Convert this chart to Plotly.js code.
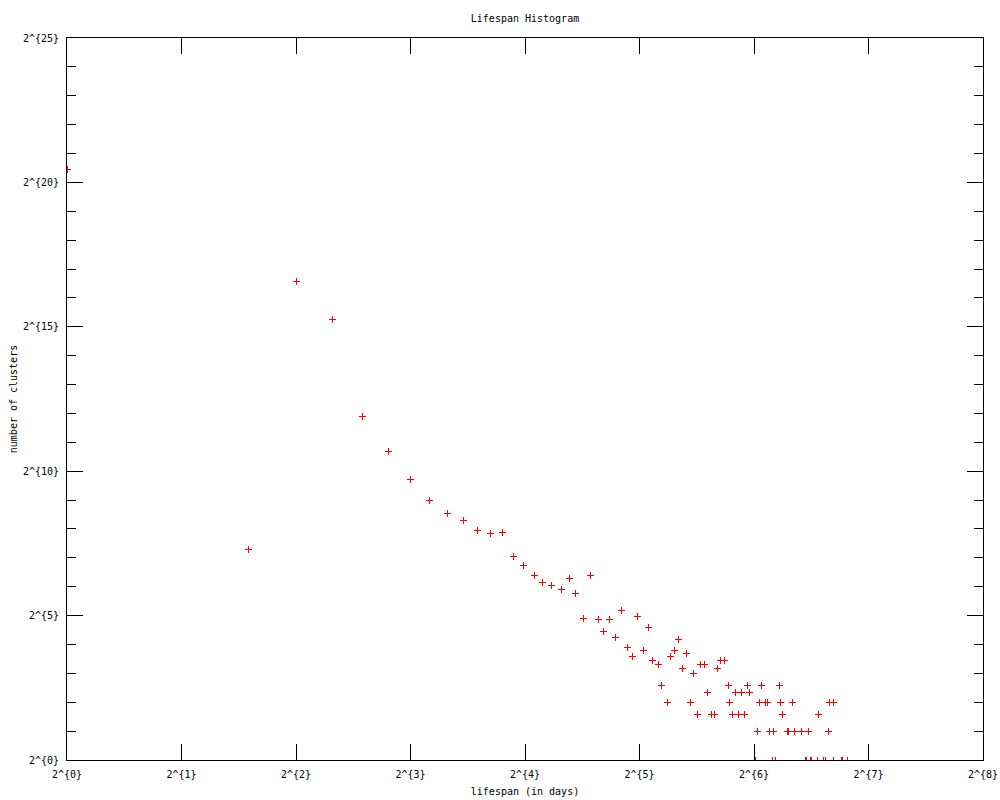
<!DOCTYPE html>
<html>
<head>
<meta charset="utf-8">
<script src="https://cdn.plot.ly/plotly-3.0.1.min.js"></script>
<style>html,body{margin:0;padding:0;background:#fff;}#chart{width:1000px;height:800px;}
#chart .point{shape-rendering:crispEdges;}
#chart .xtick, #chart .ytick, #chart .xline, #chart .yline{shape-rendering:crispEdges;}
</style>
</head>
<body>
<div id="chart"></div>
<script>
// lifespan (days) and number of clusters
var lifespan = [1, 3, 4, 5, 6, 7, 8, 9, 10, 11,
  12, 13, 14, 14.9, 15.9, 16.9, 17.8, 18.8, 19.9, 20.9,
  21.7, 23.8, 22.8, 24.9, 25.8, 26.7, 27.7, 28.7, 29.8, 30.7,
  31.7, 32.7, 33.7, 34.7, 35.8, 36.6, 37.8, 38.7, 39.6, 40.6,
  41.6, 42.6, 43.7, 44.5, 45.5, 46.4, 47.5, 48.4, 49.6, 50.5,
  51.4, 52.3, 53.4, 54.8, 55.3, 56.2, 57.1, 58.2, 59.5, 60.4,
  61.4, 62.4, 64.4, 65.5, 66.2, 67.1, 68.6, 69.4, 70.4, 71.4,
  72.1, 72.9, 74.5, 75.3, 76.2, 78.2, 79.1, 80.9, 82.0, 85.2,
  87.3, 88.1, 89.2, 90.1, 90.8, 94.2, 94.7, 97.7, 98.8, 100.7,
  101.3, 103.4, 103.7, 108.9, 109.6, 112.9];
var clusters = [1420000, 155, 98000, 39400, 3835, 1656, 845, 511, 374, 310,
  248, 231, 237, 133, 107, 84, 70, 66, 60, 78,
  55, 84, 30, 29, 22, 29, 19, 36, 15, 12,
  31, 14, 24, 11, 10, 6, 4, 12, 14, 18,
  9, 13, 4, 8, 3, 10, 10, 5, 3, 3,
  9, 11, 11, 6, 4, 3, 5, 3, 5, 3,
  6, 5, 1, 2, 4, 6, 4, 4, 2, 1,
  2, 1, 6, 4, 3, 2, 2, 4, 2, 2,
  1, 1, 2, 1, 1, 1, 3, 1, 1, 2,
  4, 4, 1, 1, 1, 1];

var xTickVals = [1, 2, 4, 8, 16, 32, 64, 128, 256];
var xTickText = ["2^{0}", "2^{1}", "2^{2}", "2^{3}", "2^{4}", "2^{5}", "2^{6}", "2^{7}", "2^{8}"];
var yTickVals = [1, 32, 1024, 32768, 1048576, 33554432];
var yTickText = ["2^{0}", "2^{5}", "2^{10}", "2^{15}", "2^{20}", "2^{25}"];
var yMinorExp = [1,2,3,4,6,7,8,9,11,12,13,14,16,17,18,19,21,22,23,24];

var yMinorVals = yMinorExp.map(function(e){ return Math.pow(2, e); });
var FONT = "DejaVu Sans Mono, monospace";

var trace = {
  x: lifespan, y: clusters, type: 'scatter', mode: 'markers',
  marker: {symbol: 'cross-thin', size: 5, color: '#ff0000', line: {color: '#ff0000', width: 1}},
  showlegend: false, hoverinfo: 'x+y'
};

var axisCommon = {
  type: 'log', showgrid: false, zeroline: false,
  showline: true, linecolor: '#000', linewidth: 1, mirror: 'allticks',
  ticks: 'inside', ticklen: 16, tickwidth: 1, tickcolor: '#000',
  tickmode: 'array', tickfont: {family: FONT, size: 10, color: '#000'},
  automargin: false
};

var layout = {
  width: 1000, height: 800,
  margin: {l: 67, r: 17, t: 38, b: 40, pad: 0},
  paper_bgcolor: '#fff', plot_bgcolor: '#fff',
  font: {family: FONT, size: 10, color: '#000'},
  title: {text: 'Lifespan Histogram', font: {family: FONT, size: 10, color: '#000'},
          x: 0.5, xref: 'paper', xanchor: 'center', y: 1 - 18/800, yref: 'container', yanchor: 'middle'},
  xaxis: Object.assign({}, axisCommon, {
    range: [0, Math.log10(256)], tickvals: xTickVals, ticktext: xTickText,
    ticklabelstandoff: 5,
    title: {text: 'lifespan (in days)', font: {family: FONT, size: 10, color: '#000'}, standoff: 8}
  }),
  yaxis: Object.assign({}, axisCommon, {
    range: [0, Math.log10(33554432)], tickvals: yTickVals, ticktext: yTickText,
    ticklabelstandoff: 5,
    minor: {tickmode: 'array', tickvals: yMinorVals, ticks: 'inside', ticklen: 9, tickwidth: 1, tickcolor: '#000', showgrid: false},
    title: {text: 'number of clusters', font: {family: FONT, size: 10, color: '#000'}, standoff: 3}
  })
};

Plotly.newPlot('chart', [trace], layout, {displayModeBar: false, staticPlot: true});
</script>
</body>
</html>
